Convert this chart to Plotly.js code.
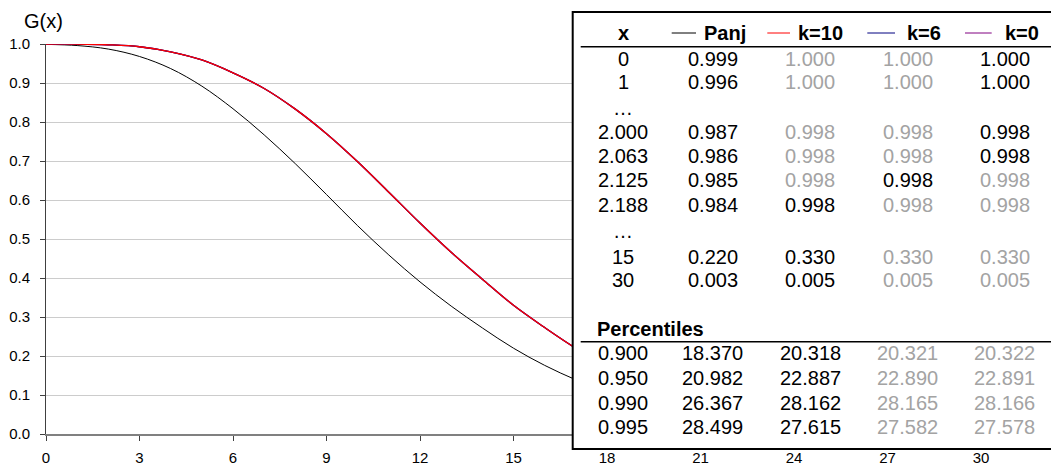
<!DOCTYPE html>
<html>
<head>
<meta charset="utf-8">
<script src="https://cdn.plot.ly/plotly-3.0.1.min.js"></script>
<style>
  html, body { margin: 0; padding: 0; background: #ffffff; }
  #chart { width: 1051px; height: 466px; }
</style>
</head>
<body>
<div id="chart"></div>
<script>
// Survival function G(x) for the Panjer recursion and the k = 10, 6, 0 approximations
const xs = [0, 1, 2, 3, 4, 5, 6, 7, 8, 9, 10, 11, 12, 13, 14, 15, 16, 17, 18, 19, 20, 30];
const gPanj = [0.999, 0.996, 0.987, 0.968, 0.937, 0.892, 0.834, 0.767, 0.693, 0.614, 0.534,
               0.459, 0.390, 0.328, 0.272, 0.220, 0.176, 0.139, 0.108, 0.083, 0.063, 0.003];
const gK10 = [1.000, 1.000, 0.998, 0.993, 0.980, 0.959, 0.926, 0.886, 0.833, 0.770, 0.698,
              0.620, 0.541, 0.466, 0.397, 0.330, 0.273, 0.220, 0.175, 0.137, 0.106, 0.005];
const gK6 = [1.000, 1.000, 0.998, 0.993, 0.980, 0.959, 0.926, 0.886, 0.833, 0.770, 0.698,
             0.620, 0.541, 0.466, 0.397, 0.330, 0.273, 0.220, 0.175, 0.137, 0.106, 0.005];
const gK0 = [1.000, 1.000, 0.998, 0.993, 0.980, 0.959, 0.926, 0.886, 0.833, 0.770, 0.698,
             0.620, 0.541, 0.466, 0.397, 0.330, 0.273, 0.220, 0.175, 0.137, 0.106, 0.005];

// Summary table: selected values of G(x)
const seriesNames = ['Panj', 'k=10', 'k=6', 'k=0'];
const tableX = ['0', '1', '…', '2.000', '2.063', '2.125', '2.188', '…', '15', '30'];
const tablePanj = ['0.999', '0.996', '', '0.987', '0.986', '0.985', '0.984', '', '0.220', '0.003'];
const tableK10 = ['1.000', '1.000', '', '0.998', '0.998', '0.998', '0.998', '', '0.330', '0.005'];
const tableK6 = ['1.000', '1.000', '', '0.998', '0.998', '0.998', '0.998', '', '0.330', '0.005'];
const tableK0 = ['1.000', '1.000', '', '0.998', '0.998', '0.998', '0.998', '', '0.330', '0.005'];
// which cells are shown in full black (1) or muted grey (0), per column k=10, k=6, k=0
const emphK10 = [0, 0, 0, 0, 0, 0, 1, 0, 1, 1];
const emphK6 = [0, 0, 0, 0, 0, 1, 0, 0, 0, 0];
const emphK0 = [1, 1, 0, 1, 1, 0, 0, 0, 0, 0];

// Percentiles
const pctLevels = ['0.900', '0.950', '0.990', '0.995'];
const pctPanj = ['18.370', '20.982', '26.367', '28.499'];
const pctK10 = ['20.318', '22.887', '28.162', '27.615'];
const pctK6 = ['20.321', '22.890', '28.165', '27.582'];
const pctK0 = ['20.322', '22.891', '28.166', '27.578'];

// ---- layout geometry (pixels) ----
const FIG_W = 1051, FIG_H = 466;
const M = { l: 46, r: 70, t: 44, b: 32 };
const PW = FIG_W - M.l - M.r, PH = FIG_H - M.t - M.b;
const PX = p => (p - M.l) / PW;        // pixel x -> paper x
const PY = p => 1 - (p - M.t) / PH;    // pixel y -> paper y

const FONT = 'Liberation Sans, Arial, Helvetica, sans-serif';
const BLACK = '#000000', GREY = '#a3a3a3';
const lineColors = ['#000000', '#ff0000', '#000080', '#800080'];

const traces = [
  { x: xs, y: gPanj, name: seriesNames[0], line: { color: lineColors[0], width: 1, shape: 'spline', smoothing: 1 } },
  { x: xs, y: gK0, name: seriesNames[3], line: { color: lineColors[3], width: 1.3, shape: 'spline', smoothing: 1 } },
  { x: xs, y: gK6, name: seriesNames[2], line: { color: lineColors[2], width: 1.3, shape: 'spline', smoothing: 1 } },
  { x: xs, y: gK10, name: seriesNames[1], line: { color: lineColors[1], width: 1.3, shape: 'spline', smoothing: 1 } }
].map(t => Object.assign({ type: 'scatter', mode: 'lines', hoverinfo: 'skip' }, t));

// table placement
const colX = [623, 712.5, 810, 907.5, 1004.5];
const headerY = 33;
const rowY = [59.3, 81.7, 106, 131.7, 156, 180, 205, 229, 256.7, 280];
const pctTitleY = 329.3;
const pctRowY = [353.3, 378.3, 402.7, 426.7];
const legendSeg = [[671.7, 696], [767.3, 790], [867.3, 895], [965, 991.7]];
const headerTextX = [724.7, 820, 924, 1021.7];

const shapes = [];
const annotations = [];

// white table box drawn over the right side of the plot
shapes.push({
  type: 'rect', xref: 'paper', yref: 'paper', layer: 'above',
  x0: PX(572.7), x1: PX(1062), y0: PY(449), y1: PY(12),
  fillcolor: '#ffffff', line: { color: '#000000', width: 2 }
});
// header and percentile rules
[46.7, 341.7].forEach(y => shapes.push({
  type: 'line', xref: 'paper', yref: 'paper', layer: 'above',
  x0: PX(580.7), x1: PX(1062), y0: PY(y), y1: PY(y),
  line: { color: '#000000', width: 1.5 }
}));
// line samples in the header
legendSeg.forEach((seg, i) => shapes.push({
  type: 'line', xref: 'paper', yref: 'paper', layer: 'above',
  x0: PX(seg[0]), x1: PX(seg[1]), y0: PY(headerY), y1: PY(headerY),
  line: { color: lineColors[i], width: 1 }
}));

function cell(text, px, py, color, bold, anchor) {
  if (text === '') return;
  annotations.push({
    xref: 'paper', yref: 'paper', x: PX(px), y: PY(py),
    xanchor: anchor || 'center', yanchor: 'middle', showarrow: false,
    text: bold ? '<b>' + text + '</b>' : text,
    font: { family: FONT, size: 20, color: color }
  });
}

// header
cell('x', colX[0], headerY, BLACK, true);
seriesNames.forEach((n, i) => cell(n, headerTextX[i], headerY, BLACK, true));

// value rows
tableX.forEach((v, r) => {
  const yy = v === '…' ? rowY[r] + 2 : rowY[r];
  cell(v, colX[0], yy, BLACK, false);
  cell(tablePanj[r], colX[1], rowY[r], BLACK, false);
  cell(tableK10[r], colX[2], rowY[r], emphK10[r] ? BLACK : GREY, false);
  cell(tableK6[r], colX[3], rowY[r], emphK6[r] ? BLACK : GREY, false);
  cell(tableK0[r], colX[4], rowY[r], emphK0[r] ? BLACK : GREY, false);
});

// percentiles block
cell('Percentiles', 595, pctTitleY, BLACK, true, 'left');
pctLevels.forEach((v, r) => {
  cell(v, colX[0], pctRowY[r], BLACK, false);
  cell(pctPanj[r], colX[1], pctRowY[r], BLACK, false);
  cell(pctK10[r], colX[2], pctRowY[r], BLACK, false);
  cell(pctK6[r], colX[3], pctRowY[r], GREY, false);
  cell(pctK0[r], colX[4], pctRowY[r], GREY, false);
});

// y-axis caption above the axis
annotations.push({
  xref: 'paper', yref: 'paper', x: PX(43), y: PY(21),
  xanchor: 'center', yanchor: 'middle', showarrow: false,
  text: 'G(x)', font: { family: FONT, size: 20, color: BLACK }
});

const layout = {
  width: FIG_W, height: FIG_H,
  margin: M,
  paper_bgcolor: '#ffffff', plot_bgcolor: '#ffffff',
  showlegend: false,
  font: { family: FONT, color: BLACK },
  xaxis: {
    range: [0, 30], tick0: 0, dtick: 3,
    showgrid: false, zeroline: false,
    showline: true, linecolor: '#808080', linewidth: 2,
    ticks: 'outside', ticklen: 5, tickcolor: '#404040', tickwidth: 1,
    ticklabelstandoff: 4,
    tickfont: { family: FONT, size: 15, color: BLACK }
  },
  yaxis: {
    range: [0, 1], tick0: 0, dtick: 0.1, tickformat: '.1f',
    showgrid: true, gridcolor: '#cccccc', gridwidth: 1, zeroline: false,
    showline: true, linecolor: '#404040', linewidth: 1,
    ticks: 'outside', ticklen: 5, tickcolor: '#404040', tickwidth: 1,
    ticklabelstandoff: 7,
    tickfont: { family: FONT, size: 15, color: BLACK }
  },
  shapes: shapes,
  annotations: annotations
};

Plotly.newPlot('chart', traces, layout, { displayModeBar: false, staticPlot: true });
</script>
</body>
</html>
